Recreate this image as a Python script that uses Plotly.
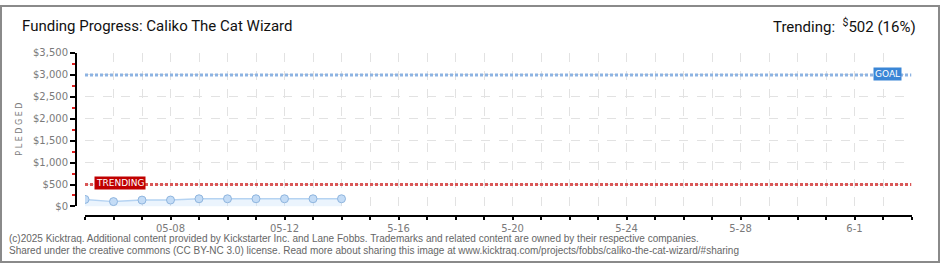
import plotly.graph_objects as go
import pandas as pd

# ---- data ----
dates = ["2025-05-05", "2025-05-06", "2025-05-07", "2025-05-08", "2025-05-09",
         "2025-05-10", "2025-05-11", "2025-05-12", "2025-05-13", "2025-05-14"]
pledged = [160, 110, 145, 146, 175, 175, 175, 175, 175, 175]
goal = 3000
trending = 502
trending_pct = 16
range_start = "2025-05-05"
range_end = "2025-06-03"
y_ticks = [0, 500, 1000, 1500, 2000, 2500, 3000, 3500]
x_label_dates = ["2025-05-08", "2025-05-12", "2025-05-16", "2025-05-20",
                 "2025-05-24", "2025-05-28", "2025-06-01"]
x_label_text = ["05-08", "05-12", "5-16", "5-20", "5-24", "5-28", "6-1"]
title = "Funding Progress: Caliko The Cat Wizard"
footer1 = ("(c)2025 Kicktraq. Additional content provided by Kickstarter Inc. and Lane Fobbs. "
           "Trademarks and related content are owned by their respective companies.")
footer2 = ("Shared under the creative commons (CC BY-NC 3.0) license. Read more about sharing "
           "this image at www.kicktraq.com/projects/fobbs/caliko-the-cat-wizard/#sharing")

W, H = 940, 270
def px(x): return x / W
def py(y): return 1 - y / H

all_days = pd.date_range(range_start, range_end, freq="D")
label_map = dict(zip(x_label_dates, x_label_text))
tickvals = [d.strftime("%Y-%m-%d") for d in all_days]
ticktext = [label_map.get(d, "") for d in tickvals]

GRID = "#e2e2e2"
TXT = "#7a7a7a"
RED = "#d95757"
BLUE = "#8db3e2"

fig = go.Figure()

# trending line
fig.add_trace(go.Scatter(x=[range_start, range_end], y=[trending, trending], mode="lines",
                         line=dict(color=RED, width=3, dash="3px,2px"), hoverinfo="skip"))
# goal line
fig.add_trace(go.Scatter(x=[range_start, range_end], y=[goal, goal], mode="lines",
                         line=dict(color=BLUE, width=3, dash="3px,2px"), hoverinfo="skip"))
# pledged series
fig.add_trace(go.Scatter(x=dates, y=pledged, mode="lines+markers", fill="tozeroy",
                         fillcolor="rgba(205,228,250,0.40)",
                         line=dict(color="#b5d3f2", width=1.5),
                         marker=dict(size=8, color="#c4dcf6", line=dict(color="#8fb5de", width=1)),
                         hoverinfo="skip"))

fig.update_layout(
    width=W, height=H, margin=dict(l=0, r=0, t=0, b=0),
    paper_bgcolor="white", plot_bgcolor="white", showlegend=False,
    xaxis=dict(type="date", domain=[px(85), px(911.5)], range=[range_start, range_end],
               anchor="free", position=py(220),
               showline=True, linecolor="black", linewidth=2,
               ticks="outside", ticklen=3, tickwidth=1.5, tickcolor="black",
               tickmode="array", tickvals=tickvals, ticktext=ticktext,
               tickfont=dict(family="DejaVu Sans", size=10, color=TXT),
               showgrid=True, gridcolor=GRID, griddash="dash", gridwidth=1,
               zeroline=False, fixedrange=True),
    xaxis2=dict(type="date", domain=[px(85), px(911.5)], range=[range_start, range_end],
                overlaying="x", anchor="free", position=py(220),
                showline=False, ticks="inside", ticklen=3, tickwidth=1.5, tickcolor="black",
                tickmode="array", tickvals=tickvals, showticklabels=False,
                showgrid=False, zeroline=False),
    yaxis=dict(domain=[py(210), py(50)], range=[0, 3500],
               anchor="free", position=px(76),
               showline=True, linecolor="black", linewidth=2,
               ticks="outside", ticklen=5, tickwidth=1.5, tickcolor="black",
               tickmode="array", tickvals=y_ticks,
               ticktext=[f"${v:,}" for v in y_ticks],
               tickfont=dict(family="DejaVu Sans", size=10, color=TXT),
               minor=dict(dtick=250, tick0=250, ticks="outside", ticklen=3,
                          tickcolor="#e02020", tickwidth=1.5, showgrid=False),
               showgrid=True, gridcolor=GRID, griddash="dash", gridwidth=1,
               zeroline=False, fixedrange=True),
)

annotations = [
    dict(text=title, x=px(20), y=py(22), xanchor="left", yanchor="middle",
         font=dict(family="Roboto", size=15, color="#111")),
    dict(text=f"Trending:  <sup>$</sup>{trending} ({trending_pct}%)", x=px(918), y=py(22),
         xanchor="right", yanchor="middle",
         font=dict(family="Roboto", size=15, color="#111")),
    dict(text="P L E D G E D", x=px(20), y=py(130), textangle=-90, xanchor="center", yanchor="middle",
         font=dict(family="DejaVu Sans", size=8, color=TXT)),
    dict(text="TRENDING", x=px(120), y=py(186), xanchor="center", yanchor="middle",
         bgcolor="#c00000", borderpad=1,
         font=dict(family="DejaVu Sans", size=9, color="white")),
    dict(text="GOAL", x=px(887.5), y=py(71.5), xanchor="center", yanchor="middle",
         bgcolor="#3a86d6", borderpad=1,
         font=dict(family="DejaVu Sans", size=9, color="white")),
    dict(text=footer1, x=px(7), y=py(243), xanchor="left", yanchor="middle",
         font=dict(family="Liberation Sans", size=10, color="#666")),
    dict(text=footer2, x=px(7), y=py(256), xanchor="left", yanchor="middle",
         font=dict(family="Liberation Sans", size=10, color="#666")),
]
for a in annotations:
    a.update(xref="paper", yref="paper", showarrow=False)
fig.update_layout(annotations=annotations)

fig.add_shape(type="rect", xref="paper", yref="paper",
              x0=px(1), x1=px(939), y0=py(268), y1=py(1),
              line=dict(color="#8a8a8a", width=2), fillcolor="rgba(0,0,0,0)", layer="above")

fig.write_html("out.html", config={"displayModeBar": False},
               post_script="document.body.style.margin='0';document.body.style.overflow='hidden';")
